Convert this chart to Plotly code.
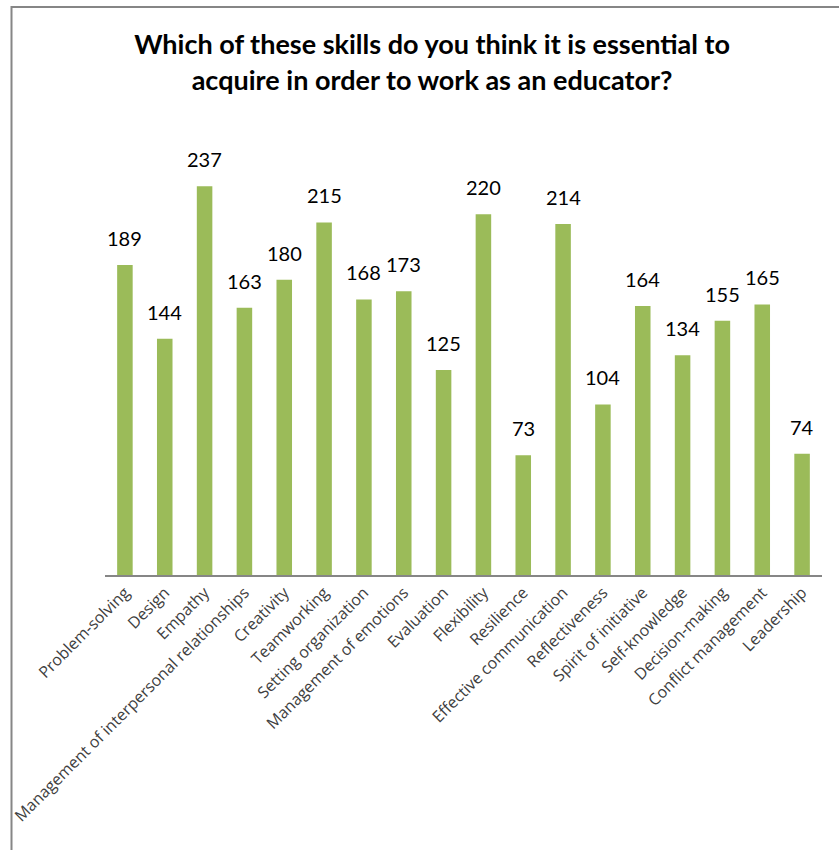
import plotly.graph_objects as go

categories = ["Problem-solving", "Design", "Empathy", "Management of interpersonal relationships",
              "Creativity", "Teamworking", "Setting organization", "Management of emotions",
              "Evaluation", "Flexibility", "Resilience", "Effective communication",
              "Reflectiveness", "Spirit of initiative", "Self-knowledge", "Decision-making",
              "Conflict management", "Leadership"]
values = [189, 144, 237, 163, 180, 215, 168, 173, 125, 220, 73, 214, 104, 164, 134, 155, 165, 74]

title_text = "Which of these skills do you think it is essential to<br>acquire in order to work as an educator?"

fig = go.Figure()
fig.add_trace(go.Bar(x=categories, y=values, marker=dict(color="#9BBB59", line=dict(width=0)),
                     hoverinfo="x+y"))

for c, v in zip(categories, values):
    fig.add_annotation(x=c, y=v, text=str(v), showarrow=False, yanchor="bottom",
                       yshift=13, font=dict(family="Lato", size=20, color="#000000"))

fig.update_layout(
    width=839, height=850,
    margin=dict(l=105, r=17, t=165, b=275, autoexpand=False),
    paper_bgcolor="white", plot_bgcolor="white",
    bargap=0.61,
    showlegend=False,
    title=dict(text=title_text, x=0.515, xanchor="center", y=0.936, yanchor="top",
               font=dict(family="Lato", size=27, color="#000000", weight="bold")),
    xaxis=dict(tickangle=-45, showline=True, linecolor="#868686", linewidth=2,
               ticks="", tickfont=dict(family="Open Sans", size=16, color="#404040"),
               showgrid=False, automargin=False),
    yaxis=dict(range=[0, 250], visible=False, showgrid=False),
    shapes=[dict(type="rect", xref="paper", yref="paper",
                 x0=(11.5 - 105) / 717, x1=1.2, y0=-1.0, y1=(575 - 7) / 410,
                 line=dict(color="#868686", width=2), fillcolor="rgba(0,0,0,0)", layer="above")],
)

fig.write_html("out.html", config={"displayModeBar": False},
               post_script="document.body.style.margin='0';")
